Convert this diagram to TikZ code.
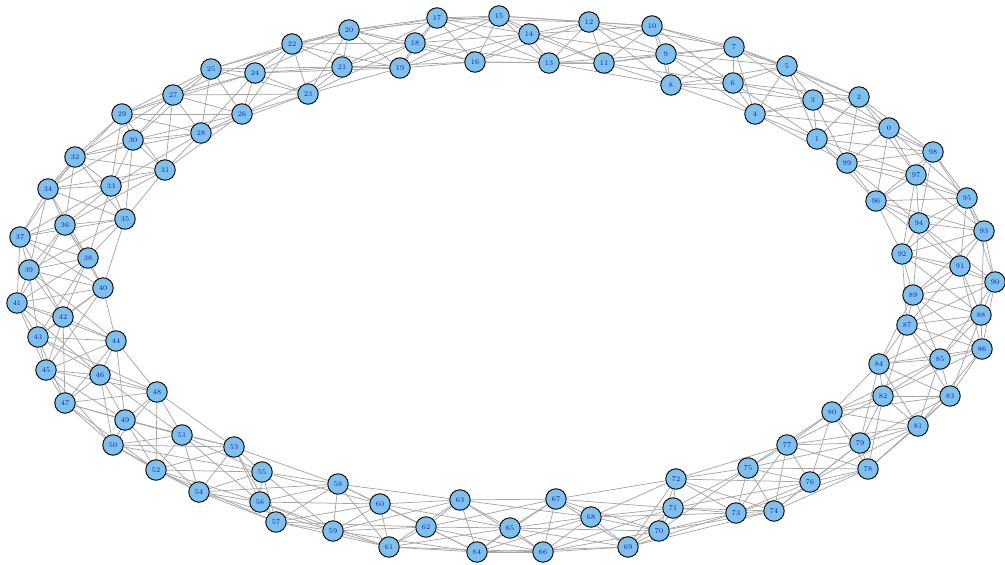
\documentclass[tikz,border=0pt]{standalone}
\usetikzlibrary{backgrounds}
\definecolor{nodefill}{HTML}{7EC0EE}
\definecolor{labelcol}{HTML}{1A1AA0}
\definecolor{edgecol}{HTML}{A6A6A6}
\begin{document}
\begin{tikzpicture}[x=1pt,y=-1pt,
  vtx/.style={circle,draw=black,fill=nodefill,line width=0.9pt,minimum size=20.5pt,inner sep=0pt,font=\fontsize{7.2}{7.2}\selectfont,text=labelcol},
  edge/.style={draw=edgecol,line width=0.75pt}]
\useasboundingbox (0,0) rectangle (1005,565);
\foreach \i/\x/\y in {0/889/128, 1/817/139, 2/859/97, 3/813/100, 4/755/114, 5/787/66, 6/733/83, 7/734/47, 8/671/85, 9/666/54, 10/652/26, 11/604/63, 12/589/22, 13/549/63, 14/529/34, 15/499/16, 16/475/62, 17/437/18, 18/415/43, 19/400/68, 20/349/30, 21/342/67, 22/292/44, 23/308/94, 24/255/73, 25/211/69, 26/242/114, 27/173/95, 28/201/133, 29/122/114, 30/133/140, 31/165/170, 32/75/157, 33/111/186, 34/48/189, 35/125/219, 36/65/225, 37/20/237, 38/88/258, 39/29/270, 40/103/288, 41/17/303, 42/63/317, 43/38/337, 44/116/341, 45/46/370, 46/100/375, 47/65/403, 48/157/392, 49/125/420, 50/113/445, 51/182/435, 52/156/470, 53/234/447, 54/199/492, 55/262/472, 56/260/502, 57/276/522, 58/338/484, 59/333/531, 60/380/504, 61/389/547, 62/426/527, 63/460/500, 64/477/552, 65/510/528, 66/543/552, 67/556/499, 68/591/517, 69/628/547, 70/659/531, 71/673/508, 72/676/479, 73/736/513, 74/774/511, 75/748/468, 76/810/482, 77/787/445, 78/868/469, 79/860/443, 80/832/412, 81/918/426, 82/883/396, 83/950/396, 84/879/364, 85/940/359, 86/982/349, 87/907/325, 88/981/315, 89/913/295, 90/995/282, 91/960/266, 92/902/254, 93/984/231, 94/919/223, 95/967/198, 96/876/201, 97/916/175, 98/933/152, 99/847/163}
  \node[vtx] (n\i) at (\x,\y) {\i};
\begin{scope}[on background layer]
\foreach \i in {0,...,99}
  \foreach \k in {1,...,5} {
    \pgfmathtruncatemacro\j{mod(\i+\k,100)}
    \draw[edge] (n\i) -- (n\j);
  }
\end{scope}
\end{tikzpicture}
\end{document}
